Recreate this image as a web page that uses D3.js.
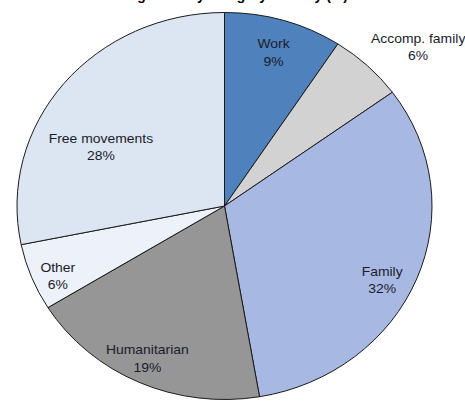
<!DOCTYPE html>
<html>
<head>
<meta charset="utf-8">
<script src="https://cdn.jsdelivr.net/npm/d3@7"></script>
<style>
  html, body { margin: 0; padding: 0; background: #fff; }
  svg { display: block; }
  text { font-family: "Liberation Sans", Arial, sans-serif; }
</style>
</head>
<body>
<svg id="chart" width="465" height="401"></svg>
<script>
// ---- data ----
const categories = ["Work", "Accomp. family", "Family", "Humanitarian", "Other", "Free movements"];
const shares = [9.2, 5.8, 32.3, 18.9, 5.6, 28.2];
const colors = ["#4f81bd", "#d2d2d2", "#a7b9e3", "#969696", "#edf1f9", "#dce6f2"];
const titleText = "Permanent immigration by category of entry (%)";

// ---- layout ----
const W = 465, H = 401;
const cx = 224.5, cy = 206;
const ry = 193.5, rx = 207.5;
const sx = rx / ry;
// label placement: radius fraction and angle shift (degrees)
const labelRadius = [0.83, 1.245, 0.85, 0.87, 0.88, 0.67];
const labelShift = [0, 5, 4.5, 1, -2.5, -12];

const svg = d3.select("#chart");

svg.append("text")
  .attr("x", 348).attr("y", 0)
  .attr("text-anchor", "end")
  .attr("font-weight", "bold")
  .attr("font-size", 14)
  .attr("fill", "#000")
  .text(titleText);

const g = svg.append("g")
  .attr("transform", `translate(${cx},${cy}) scale(${sx},1)`);

const pie = d3.pie().sort(null).value(d => d.value);
const data = pie(categories.map((c, i) => ({ name: c, value: shares[i], color: colors[i], i })));
const arc = d3.arc().innerRadius(0).outerRadius(ry);

g.selectAll("path.slice")
  .data(data)
  .enter().append("path")
  .attr("class", "slice")
  .attr("d", arc)
  .attr("fill", d => d.data.color)
  .attr("stroke", "#1a1a1a")
  .attr("stroke-width", 1)
  .attr("vector-effect", "non-scaling-stroke")
  .attr("stroke-linejoin", "round");

const labels = g.selectAll("g.label")
  .data(data)
  .enter().append("g")
  .attr("class", "label")
  .attr("transform", d => {
    const i = d.data.i;
    const a = (d.startAngle + d.endAngle) / 2 + labelShift[i] * Math.PI / 180;
    const r = ry * labelRadius[i];
    return `translate(${r * Math.sin(a)},${-r * Math.cos(a)})`;
  });

labels.append("text")
  .attr("text-anchor", "middle")
  .attr("font-size", 13)
  .attr("fill", "#1b1b2b")
  .attr("y", -4)
  .text(d => d.data.name);

labels.append("text")
  .attr("text-anchor", "middle")
  .attr("font-size", 13)
  .attr("fill", "#1b1b2b")
  .attr("y", 13.5)
  .text(d => Math.round(d.data.value) + "%");
</script>
</body>
</html>
